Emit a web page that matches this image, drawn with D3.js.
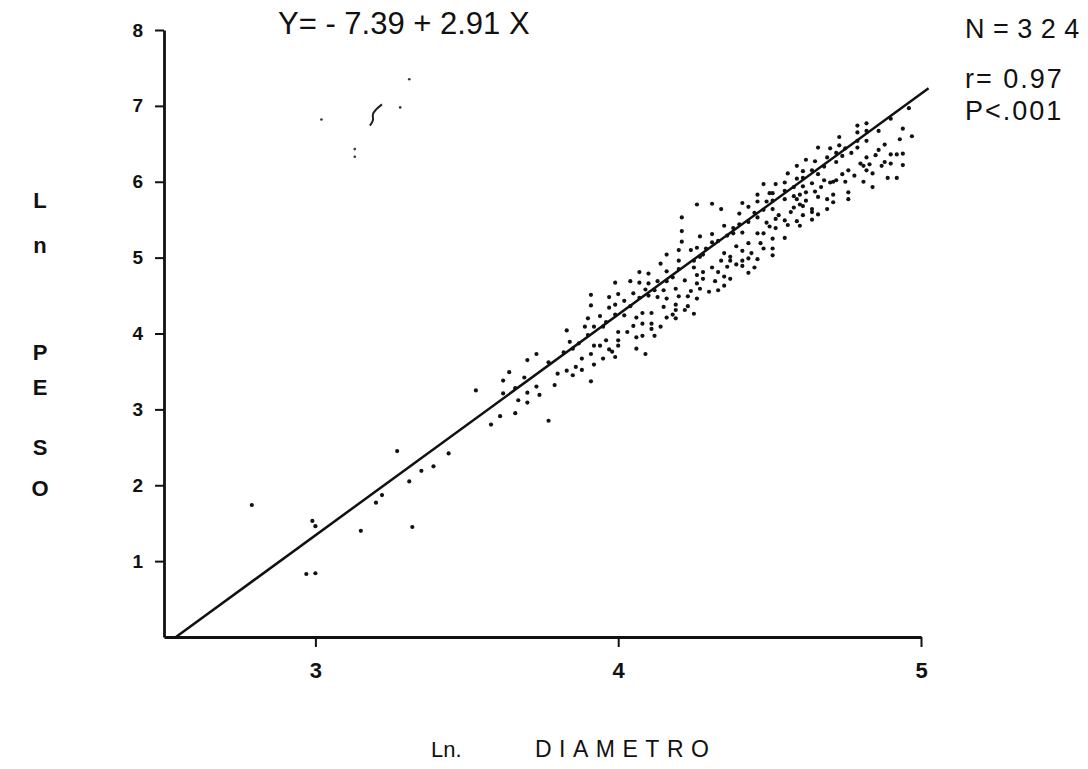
<!DOCTYPE html>
<html>
<head>
<meta charset="utf-8">
<script src="https://cdn.jsdelivr.net/npm/d3@7"></script>
<style>
  html, body { margin: 0; padding: 0; background: #fff; }
  svg { display: block; }
  text { fill: #111; font-family: "Liberation Sans", Arial, sans-serif; }
</style>
</head>
<body>
<svg id="chart" width="1088" height="769"></svg>
<script>
// Ln diametro / Ln peso pairs, one per specimen
const specimens = [
  [2.79,1.74],[2.99,1.53],[3.00,1.46],[2.97,0.83],[3.00,0.84],[3.15,1.40],[3.20,1.77],[3.22,1.87],
  [3.27,2.45],[3.31,2.05],[3.32,1.45],[3.35,2.19],[3.39,2.25],[3.44,2.42],
  [3.83,4.04],[3.90,3.98],[4.00,4.02],[4.03,4.02],[3.84,3.89],[3.87,3.87],[3.85,3.80],[3.82,3.75],
  [3.92,3.84],[3.94,3.84],[3.96,3.91],[4.00,3.91],[4.00,3.84],[3.97,3.79],[3.98,3.76],[3.99,3.69],
  [3.91,3.73],[3.95,3.67],[3.88,3.67],[3.92,3.59],[3.86,3.56],[3.88,3.52],[3.83,3.51],[3.85,3.45],
  [3.91,3.37],[3.80,3.47],[3.79,3.32],[3.77,3.62],[3.73,3.73],[3.70,3.65],[3.64,3.49],[3.62,3.38],
  [3.69,3.42],[3.73,3.30],[3.66,3.28],[3.62,3.21],[3.70,3.22],[3.74,3.19],[3.67,3.12],[3.70,3.09],
  [3.53,3.25],[3.61,2.91],[3.66,2.95],[3.58,2.80],[3.77,2.85],
  [4.07,4.81],[4.10,4.79],[3.99,4.67],[4.04,4.69],[4.07,4.67],[4.10,4.66],[4.13,4.69],[3.91,4.51],
  [3.97,4.48],[4.00,4.52],[4.05,4.53],[4.09,4.58],[4.12,4.57],[4.07,4.47],[4.10,4.50],[4.13,4.48],
  [3.91,4.37],[3.97,4.34],[3.99,4.38],[4.02,4.43],[4.04,4.36],[3.90,4.20],[3.94,4.23],[3.99,4.25],
  [4.02,4.24],[4.06,4.21],[4.08,4.27],[4.11,4.27],[3.89,4.09],[3.92,4.09],[3.95,4.09],[3.96,4.15],
  [4.05,4.10],[4.08,4.13],[4.11,4.13],[4.11,4.06],[4.14,4.09],[4.06,3.95],[4.08,3.97],[4.12,3.97],
  [4.06,3.80],[4.09,3.73],
  [4.26,5.70],[4.31,5.71],[4.34,5.64],[4.41,5.72],[4.43,5.67],[4.46,5.74],[4.46,5.83],[4.21,5.53],
  [4.40,5.58],[4.45,5.59],[4.43,5.47],[4.46,5.53],[4.21,5.35],[4.27,5.28],[4.31,5.31],[4.35,5.42],
  [4.38,5.39],[4.40,5.44],[4.33,5.22],[4.36,5.29],[4.38,5.32],[4.41,5.33],[4.46,5.32],[4.21,5.21],
  [4.16,5.04],[4.20,5.10],[4.24,5.10],[4.26,5.13],[4.29,5.12],[4.31,5.20],[4.28,5.04],[4.35,5.06],
  [4.37,5.01],[4.39,5.15],[4.41,5.09],[4.43,5.19],[4.44,5.06],[4.47,5.19],[4.20,4.96],[4.25,4.96],
  [4.27,5.01],[4.34,4.96],[4.37,4.96],[4.39,4.91],[4.41,4.96],[4.43,4.99],[4.46,4.98],[4.14,4.92],
  [4.16,4.82],[4.20,4.85],[4.25,4.87],[4.28,4.81],[4.31,4.87],[4.33,4.81],[4.36,4.88],[4.41,4.89],
  [4.45,4.87],[4.43,4.80],[4.16,4.69],[4.18,4.74],[4.22,4.70],[4.26,4.77],[4.26,4.66],[4.28,4.72],
  [4.32,4.69],[4.35,4.75],[4.37,4.72],[4.35,4.63],[4.15,4.57],[4.19,4.59],[4.24,4.56],[4.27,4.59],
  [4.30,4.55],[4.33,4.57],[4.16,4.46],[4.20,4.49],[4.23,4.49],[4.26,4.46],[4.15,4.35],[4.19,4.38],
  [4.23,4.36],[4.19,4.31],[4.22,4.31],[4.25,4.26],[4.18,4.25],[4.16,4.21],[4.19,4.20],
  [4.73,6.59],[4.79,6.65],[4.82,6.67],[4.86,6.67],[4.97,6.60],[4.93,6.56],[4.66,6.45],[4.70,6.44],
  [4.73,6.48],[4.75,6.44],[4.79,6.54],[4.82,6.54],[4.79,6.45],[4.88,6.49],[4.86,6.42],[4.92,6.36],
  [4.94,6.37],[4.90,6.36],[4.62,6.29],[4.65,6.27],[4.69,6.32],[4.72,6.38],[4.74,6.34],[4.72,6.26],
  [4.77,6.38],[4.82,6.32],[4.85,6.35],[4.88,6.26],[4.90,6.24],[4.94,6.22],[4.59,6.21],[4.61,6.14],
  [4.64,6.15],[4.68,6.20],[4.80,6.24],[4.81,6.21],[4.83,6.23],[4.87,6.21],[4.82,6.15],[4.84,6.11],
  [4.76,6.15],[4.56,6.11],[4.59,6.04],[4.61,6.05],[4.66,6.10],[4.68,6.02],[4.71,6.00],[4.72,6.02],
  [4.74,6.10],[4.75,6.00],[4.78,6.08],[4.89,6.05],[4.92,6.05],[4.81,6.00],[4.84,5.93],[4.48,5.97],
  [4.52,5.97],[4.55,5.99],[4.58,5.93],[4.61,5.94],[4.64,5.98],[4.67,5.93],[4.70,5.99],[4.50,5.85],
  [4.51,5.85],[4.55,5.88],[4.58,5.81],[4.60,5.83],[4.62,5.86],[4.65,5.87],[4.66,5.80],[4.69,5.77],
  [4.71,5.83],[4.71,5.73],[4.76,5.86],[4.76,5.77],[4.49,5.74],[4.51,5.75],[4.55,5.77],[4.59,5.77],
  [4.60,5.70],[4.62,5.75],[4.64,5.64],[4.66,5.57],[4.69,5.64],[4.48,5.63],[4.51,5.64],[4.53,5.56],
  [4.57,5.60],[4.58,5.66],[4.61,5.68],[4.64,5.60],[4.61,5.56],[4.64,5.50],[4.49,5.46],[4.52,5.51],
  [4.52,5.39],[4.55,5.49],[4.56,5.43],[4.59,5.48],[4.60,5.42],[4.48,5.32],[4.51,5.25],[4.55,5.26],
  [4.50,5.41],[4.51,5.12],[4.51,5.03],[4.48,5.12],
  [4.79,6.74],[4.82,6.77],[4.90,6.83],[4.94,6.70],[4.96,6.97]
];

// isolated marks in the upper left of the field
const strayDots = [[3.02,6.82],[3.31,7.35],[3.28,6.98],[3.13,6.43],[3.13,6.33]];
const strayStroke = [[3.18,6.74],[3.19,6.81],[3.19,6.89],[3.20,6.95],[3.22,7.02]];

// fitted regression  Y = a + b X
const intercept = -7.39;
const slope = 2.91;
const lineEndX = 5.025;

const xTicks = [3, 4, 5];
const yTicks = [1, 2, 3, 4, 5, 6, 7, 8];
const equationLabel = "Y= - 7.39 + 2.91 X";
const statsLabels = ["N = 3 2 4", "r= 0.97", "P<.001"];
const yTitleLetters = ["L", "n", "P", "E", "S", "O"];

const svg = d3.select("#chart");

const x = d3.scaleLinear().domain([2.5, 5]).range([164, 921]);
const y = d3.scaleLinear().domain([0, 8]).range([637, 30]);

// axes
const yAxis = svg.append("g")
  .attr("transform", `translate(${x(2.5)},0)`)
  .call(d3.axisLeft(y).tickValues(yTicks).tickSize(9).tickSizeOuter(0).tickPadding(12)
        .tickFormat(d3.format("d")));
yAxis.select(".domain").attr("stroke", "#111").attr("stroke-width", 2.8);
yAxis.selectAll(".tick line").attr("stroke", "#111").attr("stroke-width", 2);
yAxis.selectAll(".tick text")
  .style("font-size", "19px").style("font-weight", "bold").attr("fill", "#111");

const xAxis = svg.append("g")
  .attr("transform", `translate(0,${y(0)})`)
  .call(d3.axisBottom(x).tickValues(xTicks).tickSize(10).tickSizeOuter(0).tickPadding(15)
        .tickFormat(d3.format("d")));
xAxis.select(".domain").attr("stroke", "#111").attr("stroke-width", 2.8);
xAxis.selectAll(".tick line").attr("stroke", "#111").attr("stroke-width", 2);
xAxis.selectAll(".tick text")
  .style("font-size", "22px").style("font-weight", "bold").attr("fill", "#111");

// regression line, from where it crosses Y = 0
const lineStartX = -intercept / slope;
svg.append("path")
  .datum([lineStartX, lineEndX])
  .attr("fill", "none")
  .attr("stroke", "#111")
  .attr("stroke-width", 2.5)
  .attr("d", d3.line().x(d => x(d)).y(d => y(intercept + slope * d)));

// specimens
svg.append("g").selectAll("circle")
  .data(specimens)
  .join("circle")
  .attr("cx", d => x(d[0]))
  .attr("cy", d => y(d[1]))
  .attr("r", 2.1)
  .attr("fill", "#111");

svg.append("g").selectAll("circle")
  .data(strayDots)
  .join("circle")
  .attr("cx", d => x(d[0]))
  .attr("cy", d => y(d[1]))
  .attr("r", 1.3)
  .attr("fill", "#333");

svg.append("path")
  .datum(strayStroke)
  .attr("fill", "none")
  .attr("stroke", "#222")
  .attr("stroke-width", 2)
  .attr("d", d3.line().x(d => x(d[0])).y(d => y(d[1])).curve(d3.curveCatmullRom));

// equation and statistics
svg.append("text")
  .attr("x", 278).attr("y", 34)
  .style("font-size", "31px")
  .text(equationLabel);

svg.selectAll(".stat")
  .data(statsLabels)
  .join("text")
  .attr("class", "stat")
  .attr("x", 965)
  .attr("y", (d, i) => [38, 88, 120][i])
  .style("font-size", "27px")
  .style("letter-spacing", (d, i) => i === 0 ? "0.5px" : "2px")
  .text(d => d);

// axis titles
svg.selectAll(".ytitle")
  .data(yTitleLetters)
  .join("text")
  .attr("class", "ytitle")
  .attr("x", 40)
  .attr("y", (d, i) => [208, 253, 360, 395, 455, 496][i])
  .attr("text-anchor", "middle")
  .style("font-size", "22px")
  .style("font-weight", "bold")
  .text(d => d);

svg.append("text")
  .attr("x", 431).attr("y", 757)
  .style("font-size", "22px")
  .text("Ln.");

svg.append("text")
  .attr("x", 535).attr("y", 757)
  .style("font-size", "23px")
  .style("letter-spacing", "7.5px")
  .text("DIAMETRO");
</script>
</body>
</html>
